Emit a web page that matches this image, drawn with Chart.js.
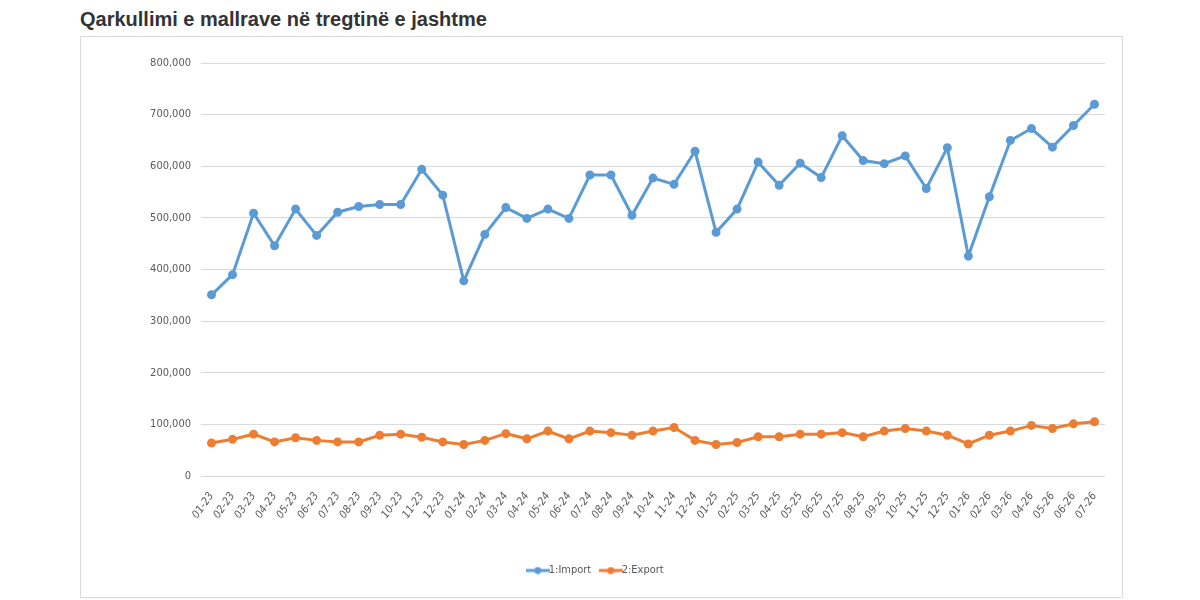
<!DOCTYPE html>
<html>
<head>
<meta charset="utf-8">
<script src="https://cdn.jsdelivr.net/npm/chart.js@4/dist/chart.umd.min.js"></script>
<style>
  body { margin: 0; background: #fff; width: 1200px; height: 600px; position: relative; overflow: hidden; }
  #title { position: absolute; left: 80px; top: 8px; font: bold 20px "Liberation Sans", Arial, sans-serif; color: #333; }
  #box { position: absolute; left: 80px; top: 36px; width: 1041px; height: 560px; border: 1px solid #dadada; }
</style>
</head>
<body>
<div id="title">Qarkullimi e mallrave në tregtinë e jashtme</div>
<div id="box"><canvas id="chart"></canvas></div>
<script>
const months = ["01-23","02-23","03-23","04-23","05-23","06-23","07-23","08-23","09-23","10-23","11-23","12-23",
  "01-24","02-24","03-24","04-24","05-24","06-24","07-24","08-24","09-24","10-24","11-24","12-24",
  "01-25","02-25","03-25","04-25","05-25","06-25","07-25","08-25","09-25","10-25","11-25","12-25",
  "01-26","02-26","03-26","04-26","05-26","06-26","07-26"];

const importValues = [351000, 390000, 509000, 446000, 517000, 466000, 511000, 522000, 526000, 526000, 594000, 544000,
  378000, 468000, 520000, 499000, 517000, 499000, 583000, 583000, 505000, 577000, 565000, 629000,
  472000, 517000, 608000, 563000, 606000, 578000, 659000, 611000, 605000, 620000, 557000, 636000,
  426000, 541000, 650000, 673000, 637000, 679000, 720000];

const exportValues = [64000, 71000, 81000, 66000, 74000, 69000, 66000, 66000, 79000, 81000, 75000, 66000,
  61000, 69000, 82000, 72000, 87000, 72000, 87000, 84000, 79000, 87000, 94000, 69000,
  61000, 65000, 76000, 76000, 81000, 81000, 84000, 76000, 87000, 92000, 87000, 79000,
  62000, 79000, 87000, 98000, 92000, 101000, 105000];

const yTicks = [0, 100000, 200000, 300000, 400000, 500000, 600000, 700000, 800000];

const blue = "#5b9bd5";
const orange = "#ed7d31";
const narrow = '"DejaVu Sans Condensed", "Liberation Sans Narrow", sans-serif';

// small legend icon: line with a dot in the middle
function legendIcon(color) {
  const c = document.createElement("canvas");
  c.width = 24; c.height = 8;
  const g = c.getContext("2d");
  g.strokeStyle = color; g.lineWidth = 3;
  g.beginPath(); g.moveTo(0, 4); g.lineTo(24, 4); g.stroke();
  g.fillStyle = color;
  g.beginPath(); g.arc(12, 4, 3.5, 0, Math.PI * 2); g.fill();
  return c;
}

Chart.defaults.font.family = narrow;
Chart.defaults.color = "#595959";

new Chart(document.getElementById("chart"), {
  type: "line",
  data: {
    labels: months,
    datasets: [{
      label: "1:Import",
      data: importValues,
      borderColor: blue,
      backgroundColor: blue,
      borderWidth: 3,
      pointRadius: 3,
      pointHoverRadius: 4,
      fill: false,
      tension: 0
    }, {
      label: "2:Export",
      data: exportValues,
      borderColor: orange,
      backgroundColor: orange,
      borderWidth: 3,
      pointRadius: 3,
      pointHoverRadius: 4,
      fill: false,
      tension: 0
    }]
  },
  options: {
    responsive: true,
    maintainAspectRatio: false,
    animation: false,
    layout: { padding: { left: 10, right: 17, top: 26, bottom: 11 } },
    elements: { point: { pointStyle: "circle" } },
    plugins: {
      tooltip: { enabled: false },
      legend: {
        position: "bottom",
        labels: {
          font: { size: 11 },
          color: "#595959",
          usePointStyle: true,
          padding: 14,
          generateLabels: (chart) => chart.data.datasets.map((ds, i) => ({
            text: ds.label,
            pointStyle: legendIcon(ds.borderColor),
            fillStyle: ds.borderColor,
            strokeStyle: ds.borderColor,
            lineWidth: 0,
            datasetIndex: i,
            hidden: false,
            fontColor: "#595959"
          }))
        }
      }
    },
    scales: {
      x: {
        offset: true,
        grid: { display: false },
        border: { display: false },
        afterFit: (s) => { s.height = 75; },
        ticks: { font: { size: 11, style: "italic" }, color: "#595959", maxRotation: 55, minRotation: 55, autoSkip: false, padding: 6 }
      },
      y: {
        min: 0,
        max: 800000,
        afterBuildTicks: (s) => { s.ticks = yTicks.map(v => ({ value: v })); },
        afterFit: (s) => { s.width = 110; },
        grid: { color: "#d9d9d9", lineWidth: 1, drawTicks: false },
        border: { display: false },
        ticks: {
          font: { size: 11 },
          color: "#595959",
          padding: 10,
          callback: (v) => v.toLocaleString("en-US")
        }
      }
    }
  }
});
</script>
</body>
</html>
